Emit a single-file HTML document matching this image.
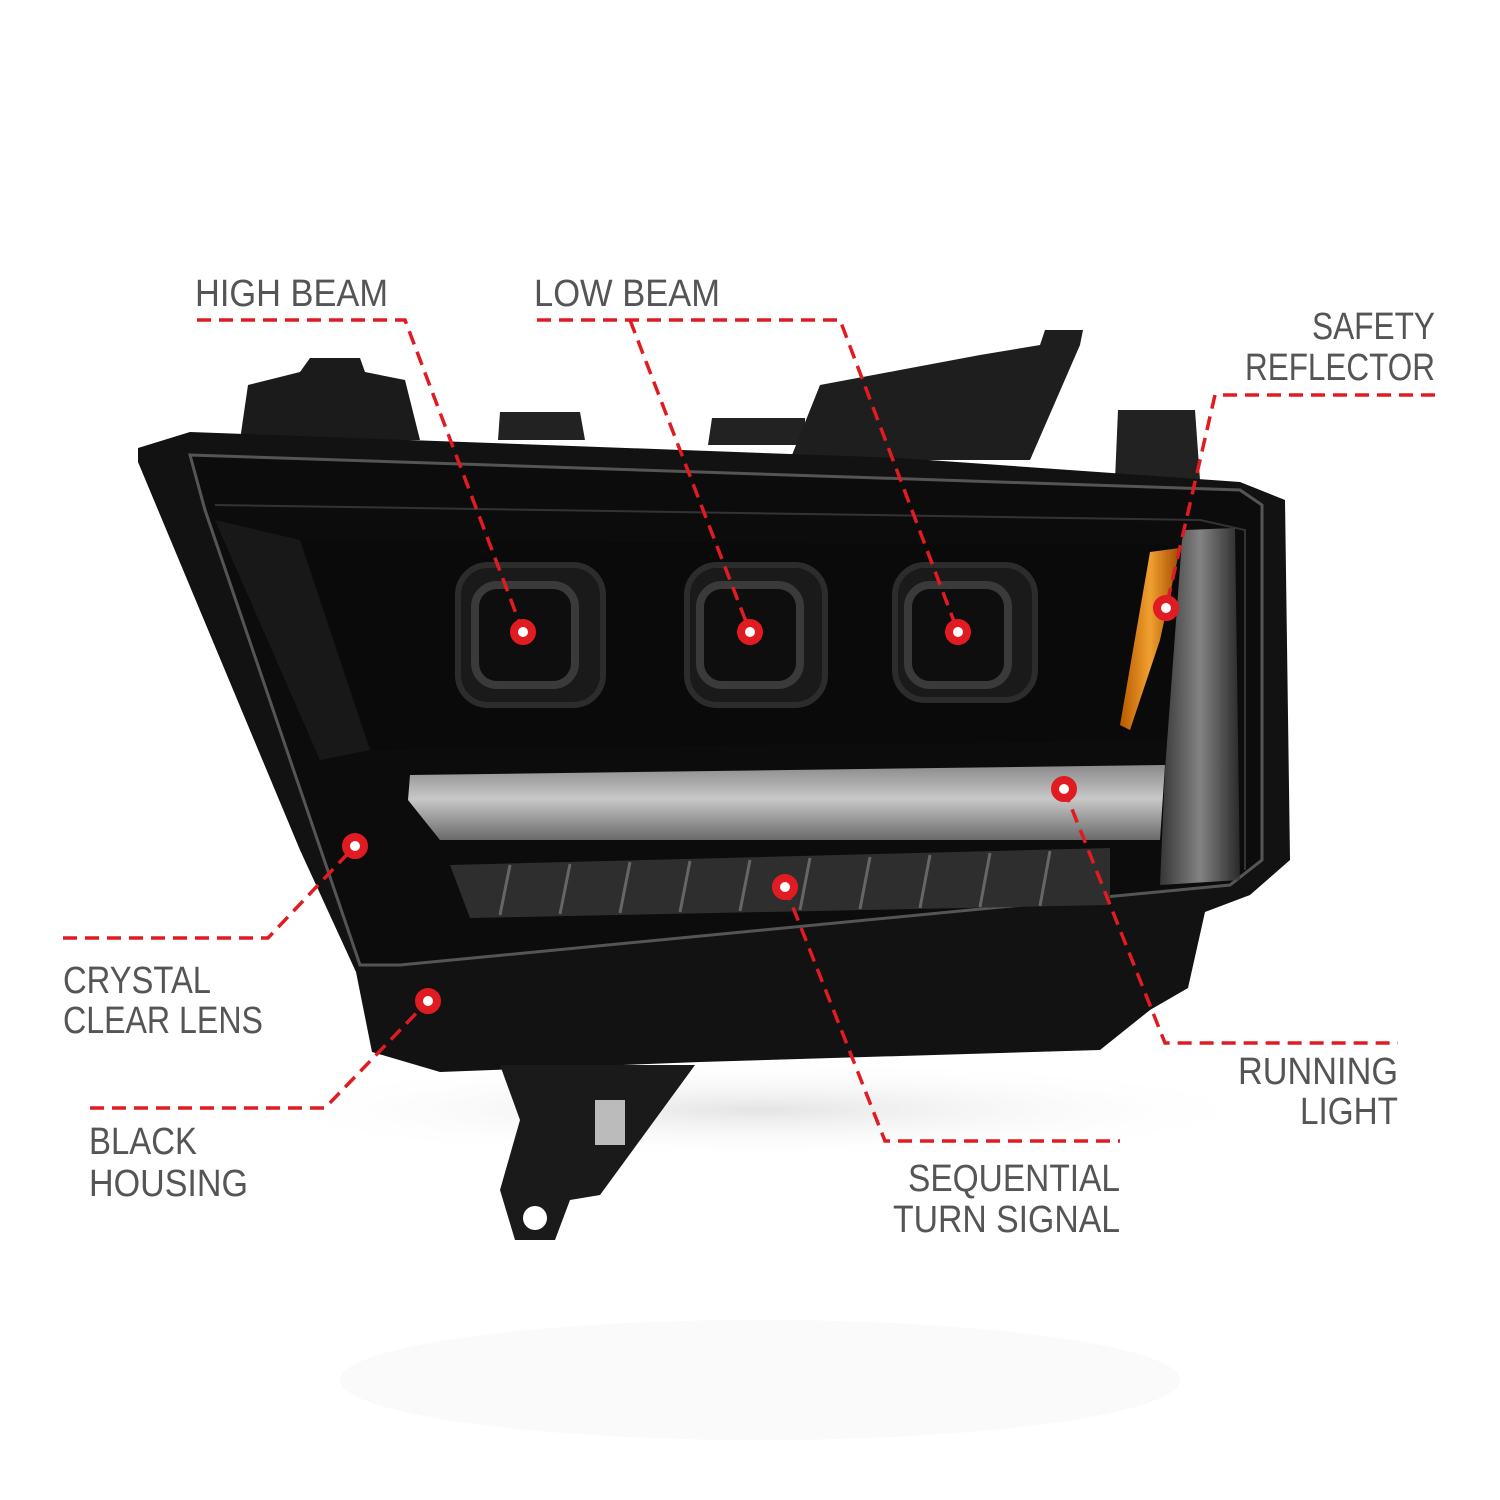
<!DOCTYPE html>
<html><head><meta charset="utf-8"><style>
html,body{margin:0;padding:0;background:#fff;}
svg{display:block}
text{font-family:"Liberation Sans Narrow","Liberation Sans",sans-serif;fill:#555;font-size:38px;}
</style></head><body>
<svg width="1500" height="1500" viewBox="0 0 1500 1500" xmlns="http://www.w3.org/2000/svg">
<defs>
<linearGradient id="bar" x1="0" y1="0" x2="0" y2="1"><stop offset="0" stop-color="#8a8a8a"/><stop offset="0.45" stop-color="#c8c8c8"/><stop offset="1" stop-color="#6a6a6a"/></linearGradient>
<linearGradient id="vbar" x1="0" y1="0" x2="1" y2="0"><stop offset="0" stop-color="#444"/><stop offset="0.5" stop-color="#aaa"/><stop offset="1" stop-color="#333"/></linearGradient>
<linearGradient id="amb" x1="0" y1="0" x2="1" y2="0"><stop offset="0" stop-color="#b85a00"/><stop offset="0.5" stop-color="#f0a030"/><stop offset="1" stop-color="#a04a00"/></linearGradient>
<radialGradient id="shadow" cx="0.5" cy="0.5" r="0.5"><stop offset="0" stop-color="#e4e4e4"/><stop offset="1" stop-color="#fff" stop-opacity="0"/></radialGradient>
</defs>
<ellipse cx="760" cy="1110" rx="520" ry="50" fill="url(#shadow)"/>
<ellipse cx="760" cy="1380" rx="420" ry="60" fill="#fafafa"/>
<path d="M240,440 L248,385 L300,372 L310,358 L360,358 L365,372 L405,380 L420,440 Z" fill="#1b1b1b"/>
<path d="M498,440 L500,412 L580,412 L585,440 Z" fill="#222"/>
<path d="M708,445 L712,418 L805,418 L805,445 Z" fill="#222"/>
<path d="M790,460 L820,385 L900,370 L980,355 L1040,345 L1045,330 L1083,330 L1080,345 L1030,460 Z" fill="#1e1e1e"/>
<path d="M1115,480 L1118,410 L1195,410 L1200,480 Z" fill="#222"/>
<path d="M138,448 L190,432 L900,458 L1240,482 L1285,500 L1290,860 L1250,895 L1205,912 L1188,988 L1150,1010 L1100,1050 L700,1062 L440,1072 L372,1052 L356,972 L300,850 L138,462 Z" fill="#121212"/>
<path d="M500,1065 L695,1065 L600,1195 L570,1200 L555,1240 L515,1240 L500,1190 L520,1120 Z" fill="#1a1a1a"/>
<circle cx="535" cy="1218" r="12" fill="#fff"/>
<rect x="595" y="1100" width="30" height="45" fill="#bbb"/>
<path d="M190,455 L1240,490 L1262,505 L1262,860 L1230,885 L400,965 L360,965 L205,510 Z" fill="#0c0c0c" stroke="#555" stroke-width="3"/>
<path d="M215,505 L1200,520 L1245,530 L1245,870" fill="none" stroke="#333" stroke-width="2"/>
<path d="M250,540 L1190,545 L1175,740 L360,750 Z" fill="#0a0a0a"/>
<path d="M215,520 L300,540 L370,750 L320,760 Z" fill="#222" opacity="0.6"/>
<g fill="#1a1a1a" stroke="#2c2c2c" stroke-width="6">
<rect x="458" y="565" width="145" height="140" rx="30"/>
<rect x="687" y="565" width="138" height="140" rx="30"/>
<rect x="895" y="565" width="140" height="135" rx="30"/>
</g>
<g fill="#0e0e0e" stroke="#3a3a3a" stroke-width="8">
<rect x="475" y="585" width="100" height="100" rx="22"/>
<rect x="700" y="585" width="100" height="100" rx="22"/>
<rect x="908" y="585" width="100" height="100" rx="22"/>
</g>
<path d="M1150,552 L1180,548 L1160,640 L1130,730 L1120,725 Z" fill="url(#amb)"/>
<path d="M1185,530 L1235,528 L1240,880 L1160,885 L1165,770 L1182,540 Z" fill="url(#vbar)" opacity="0.75"/>
<path d="M410,775 L1165,765 L1160,840 L440,840 L408,800 Z" fill="url(#bar)"/>
<path d="M450,865 L1110,848 L1110,905 L470,918 Z" fill="#2e2e2e"/>
<g stroke="#666" stroke-width="3">
<line x1="510" y1="865" x2="500" y2="915"/><line x1="570" y1="864" x2="560" y2="914"/><line x1="630" y1="862" x2="620" y2="913"/><line x1="690" y1="861" x2="680" y2="912"/><line x1="750" y1="860" x2="740" y2="911"/><line x1="810" y1="858" x2="800" y2="910"/><line x1="870" y1="857" x2="860" y2="909"/><line x1="930" y1="855" x2="920" y2="908"/><line x1="990" y1="853" x2="980" y2="907"/><line x1="1050" y1="851" x2="1040" y2="906"/>
</g>
<g fill="none" stroke="#e01b22" stroke-width="3.5" stroke-dasharray="14,8">
<polyline points="197,320 405,320 523,632"/>
<polyline points="537,320 840,320 958,632"/>
<line x1="630" y1="320" x2="750" y2="632"/>
<polyline points="1435,395 1215,395 1166,608"/>
<polyline points="63,938 268,938 355,846"/>
<polyline points="90,1108 325,1108 428,1001"/>
<polyline points="1064,789 1165,1043 1398,1043"/>
<polyline points="785,887 885,1141 1120,1141"/>
</g>
<g fill="#fff" stroke="#e01b22" stroke-width="8">
<circle cx="523" cy="632" r="9"/><circle cx="750" cy="632" r="9"/><circle cx="958" cy="632" r="9"/>
<circle cx="1166" cy="608" r="9"/><circle cx="355" cy="846" r="9"/><circle cx="428" cy="1001" r="9"/>
<circle cx="1064" cy="789" r="9"/><circle cx="785" cy="887" r="9"/>
</g>
<text x="195" y="306" textLength="193" lengthAdjust="spacingAndGlyphs">HIGH BEAM</text>
<text x="534" y="306" textLength="186" lengthAdjust="spacingAndGlyphs">LOW BEAM</text>
<text x="1312" y="339" textLength="123" lengthAdjust="spacingAndGlyphs">SAFETY</text>
<text x="1245" y="380" textLength="190" lengthAdjust="spacingAndGlyphs">REFLECTOR</text>
<text x="63" y="993" textLength="148" lengthAdjust="spacingAndGlyphs">CRYSTAL</text>
<text x="63" y="1033" textLength="200" lengthAdjust="spacingAndGlyphs">CLEAR LENS</text>
<text x="89" y="1154" textLength="108" lengthAdjust="spacingAndGlyphs">BLACK</text>
<text x="89" y="1196" textLength="159" lengthAdjust="spacingAndGlyphs">HOUSING</text>
<text x="1238" y="1084" textLength="160" lengthAdjust="spacingAndGlyphs">RUNNING</text>
<text x="1300" y="1124" textLength="98" lengthAdjust="spacingAndGlyphs">LIGHT</text>
<text x="908" y="1191" textLength="212" lengthAdjust="spacingAndGlyphs">SEQUENTIAL</text>
<text x="893" y="1232" textLength="227" lengthAdjust="spacingAndGlyphs">TURN SIGNAL</text>
</svg>
</body></html>
